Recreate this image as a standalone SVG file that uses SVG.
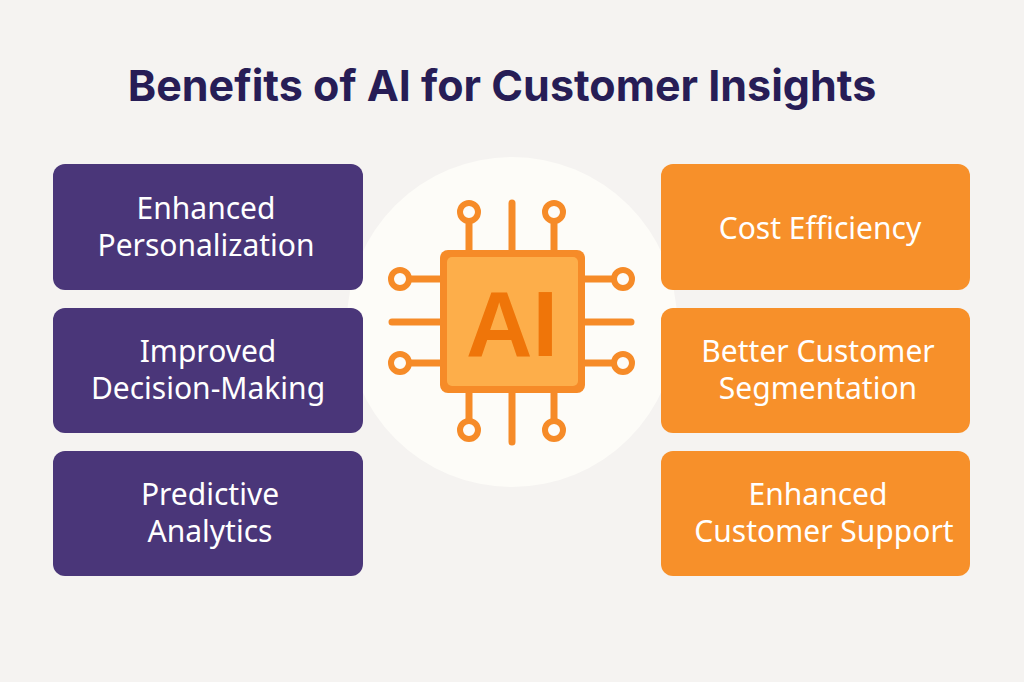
<svg xmlns="http://www.w3.org/2000/svg" width="1024" height="682" viewBox="0 0 1024 682">
<style>
.p{fill:#4a3679}.o{fill:#f7902a}
.t{font-family:"Noto Sans","Liberation Sans",sans-serif;font-size:30px;fill:#fff;text-anchor:middle}
.w{stroke:#f68b28;stroke-width:7;stroke-linecap:round;fill:none}
.c{fill:#fdfcf9;stroke:#f68b28;stroke-width:6}
</style>
<rect width="1024" height="682" fill="#f5f3f1"/>
<text x="502" y="101" font-family="Inter,'Noto Sans',sans-serif" font-size="43" font-weight="700" fill="#271d56" text-anchor="middle">Benefits of AI for Customer Insights</text>
<circle cx="512" cy="322" r="165" fill="#fdfcf8"/>
<g id="n1"><rect class="p" x="53" y="164" width="310" height="126" rx="12"/><text class="t" x="206" y="219">Enhanced</text><text class="t" x="206" y="256">Personalization</text></g>
<g id="n2"><rect class="p" x="53" y="308" width="310" height="125" rx="12"/><text class="t" x="208" y="362">Improved</text><text class="t" x="208" y="399">Decision-Making</text></g>
<g id="n3"><rect class="p" x="53" y="451" width="310" height="125" rx="12"/><text class="t" x="210" y="505">Predictive</text><text class="t" x="210" y="542">Analytics</text></g>
<g id="n4"><rect class="o" x="661" y="164" width="309" height="126" rx="12"/><text class="t" x="820" y="239">Cost Efficiency</text></g>
<g id="n5"><rect class="o" x="661" y="308" width="309" height="125" rx="12"/><text class="t" x="818" y="362">Better Customer</text><text class="t" x="818" y="399">Segmentation</text></g>
<g id="n6"><rect class="o" x="661" y="451" width="309" height="125" rx="12"/><text class="t" x="818" y="505">Enhanced</text><text class="t" x="824" y="542">Customer Support</text></g>
<g id="chip">
<path class="w" d="M469 212V250M512 203V250M554 212V250M469 393V430M512 393V442M554 393V430M400 279H440M392 322H440M400 363H440M585 279H623M585 322H631M585 363H623"/>
<circle class="c" cx="469" cy="212" r="9"/><circle class="c" cx="554" cy="212" r="9"/>
<circle class="c" cx="469" cy="430" r="9"/><circle class="c" cx="554" cy="430" r="9"/>
<circle class="c" cx="400" cy="279" r="9"/><circle class="c" cx="400" cy="363" r="9"/>
<circle class="c" cx="623" cy="279" r="9"/><circle class="c" cx="623" cy="363" r="9"/>
<rect x="440" y="250" width="145" height="143" rx="8" fill="#f68b28"/>
<rect x="447" y="257" width="131" height="129" rx="5" fill="#fdae4a"/>
<text x="512" y="356" font-family="'Liberation Sans',Arial,sans-serif" font-size="92" font-weight="700" fill="#ef7509" text-anchor="middle">AI</text>
</g>
</svg>
